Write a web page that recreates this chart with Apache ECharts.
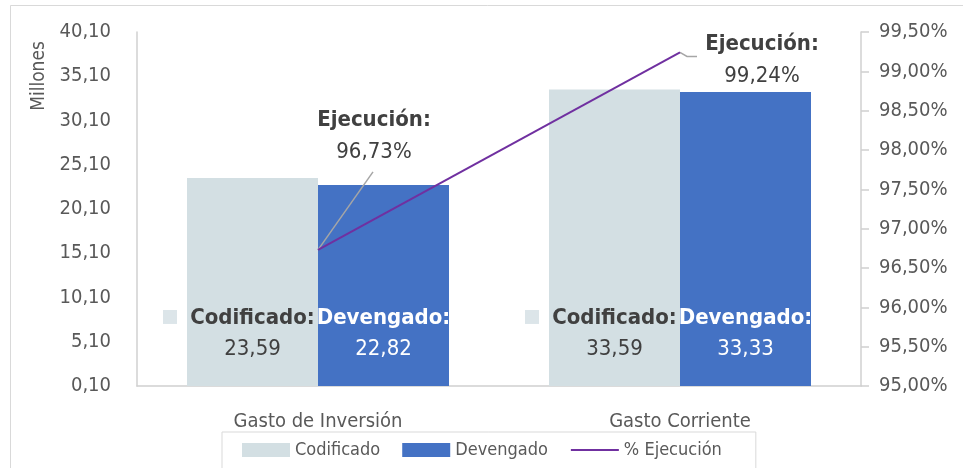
<!DOCTYPE html>
<html>
<head>
<meta charset="utf-8">
<script src="https://cdn.jsdelivr.net/npm/echarts@6/dist/echarts.min.js"></script>
<style>
  html, body { margin: 0; padding: 0; background: #fff; }
  #chart { width: 963px; height: 468px; }
</style>
</head>
<body>
<div id="chart"></div>
<script>
// datos del grafico
const categorias = ['Gasto de Inversión', 'Gasto Corriente'];
const codificado = [23.59, 33.59];
const devengado = [22.82, 33.33];
const ejecucion = [96.73, 99.24];
const posKey = [7.9, 7.9]; // altura del cuadrito junto a "Codificado:"

const FONT = '"DejaVu Sans Condensed", "Liberation Sans Narrow", "Roboto", sans-serif';
const coma = (v, d) => v.toFixed(d).replace('.', ',');

// desplazamiento de las etiquetas de ejecucion y sus lineas guia (px)
const etiquetaDesp = [[56, -78], [82, 44]];
const guiaDesp = [[[55, -78]], [[7, 4], [17, 4]]];

let myChart = echarts.init(document.getElementById('chart'));

let option = {
    backgroundColor: '#ffffff',
    textStyle: { fontFamily: FONT },
    animation: false,
    grid: { left: 137, right: 102, top: 32, bottom: 82 },
    graphic: [
        {
            type: 'rect',
            shape: { x: 10.5, y: 5.5, width: 1000, height: 600 },
            style: { fill: 'none', stroke: '#d9d9d9', lineWidth: 1 },
            silent: true
        },
        {
            type: 'text',
            x: 39, y: 76,
            rotation: Math.PI / 2,
            style: {
                text: 'Millones',
                fontFamily: FONT, fontSize: 19, fill: '#595959',
                align: 'center', verticalAlign: 'middle'
            }
        }
    ],
    legend: {
        data: [
            { name: 'Codificado', icon: 'rect' },
            { name: 'Devengado', icon: 'rect' },
            { name: '% Ejecución', itemStyle: { opacity: 0 } }
        ],
        left: 222,
        top: 432,
        borderColor: '#d9d9d9',
        borderWidth: 1,
        padding: [9, 34, 12, 20],
        itemWidth: 48,
        itemHeight: 14,
        itemGap: 22,
        textStyle: { fontFamily: FONT, fontSize: 18, color: '#595959' }
    },
    xAxis: {
        type: 'category',
        data: categorias,
        axisLine: { show: true, lineStyle: { color: '#d0d0d0', width: 1.5 } },
        axisTick: { show: false },
        axisLabel: { fontFamily: FONT, fontSize: 20, color: '#595959', margin: 26 }
    },
    yAxis: [
        {
            type: 'value',
            min: 0.1,
            max: 40.1,
            interval: 5,
            splitLine: { show: false },
            axisLine: { show: true, lineStyle: { color: '#d0d0d0', width: 1.5 } },
            axisTick: { show: false },
            axisLabel: {
                fontFamily: FONT, fontSize: 20, color: '#595959', margin: 26,
                formatter: v => coma(v, 2)
            }
        },
        {
            type: 'value',
            min: 95,
            max: 99.5,
            interval: 0.5,
            splitLine: { show: false },
            axisLine: { show: true, lineStyle: { color: '#d0d0d0', width: 1.5 } },
            axisTick: { show: true, length: 8, lineStyle: { color: '#d0d0d0', width: 1.5 } },
            axisLabel: {
                fontFamily: FONT, fontSize: 20, color: '#595959', margin: 18,
                formatter: v => coma(v, 2) + '%'
            }
        }
    ],
    series: [
        {
            name: 'Codificado',
            type: 'bar',
            data: codificado,
            barWidth: 131,
            barGap: '0%',
            itemStyle: { color: '#d3dfe3' },
            label: {
                show: true,
                position: 'insideBottom',
                distance: 22,
                formatter: p => '{b|Codificado:}\n{v|' + coma(p.value, 2) + '}',
                rich: {
                    b: { fontFamily: FONT, fontSize: 22, fontWeight: 'bold', color: '#404040', lineHeight: 32 },
                    v: { fontFamily: FONT, fontSize: 22, color: '#404040', lineHeight: 30 }
                }
            }
        },
        {
            name: 'Devengado',
            type: 'bar',
            data: devengado,
            barWidth: 131,
            barGap: '0%',
            itemStyle: { color: '#4472c4' },
            label: {
                show: true,
                position: 'insideBottom',
                distance: 22,
                formatter: p => '{b|Devengado:}\n{v|' + coma(p.value, 2) + '}',
                rich: {
                    b: { fontFamily: FONT, fontSize: 22, fontWeight: 'bold', color: '#ffffff', lineHeight: 32 },
                    v: { fontFamily: FONT, fontSize: 22, color: '#ffffff', lineHeight: 30 }
                }
            }
        },
        {
            name: 'clave',
            type: 'scatter',
            data: posKey,
            symbol: 'rect',
            symbolSize: 14,
            symbolOffset: [-148, 0],
            itemStyle: { color: '#d3dfe3' },
            silent: true,
            z: 5
        },
        {
            // lineas guia de las etiquetas de ejecucion
            name: 'guia',
            type: 'custom',
            yAxisIndex: 1,
            data: ejecucion.map((v, i) => [i, v]),
            encode: { x: 0, y: 1 },
            silent: true,
            z: 9,
            renderItem: function (params, api) {
                let i = params.dataIndex;
                let p = api.coord([api.value(0), api.value(1)]);
                let pts = [p].concat(guiaDesp[i].map(d => [p[0] + d[0], p[1] + d[1]]));
                return {
                    type: 'polyline',
                    shape: { points: pts },
                    style: { stroke: '#a6a6a6', lineWidth: 1.5, fill: 'none' }
                };
            }
        },
        {
            name: '% Ejecución',
            type: 'line',
            yAxisIndex: 1,
            data: ejecucion,
            symbol: 'circle',
            symbolSize: 0,
            showSymbol: true,
            lineStyle: { color: '#7030a0', width: 2 },
            itemStyle: { color: '#7030a0' },
            z: 10,
            label: {
                show: true,
                formatter: p => '{b|Ejecución:}\n{v|' + coma(p.value, 2) + '%}',
                rich: {
                    b: { fontFamily: FONT, fontSize: 22, fontWeight: 'bold', color: '#404040', lineHeight: 34, align: 'center' },
                    v: { fontFamily: FONT, fontSize: 22, color: '#404040', lineHeight: 30, align: 'center' }
                }
            },
            labelLayout: function (params) {
                let d = etiquetaDesp[params.dataIndex];
                return { dx: d[0], dy: d[1] };
            }
        }
    ]
};

myChart.setOption(option);
</script>
</body>
</html>
